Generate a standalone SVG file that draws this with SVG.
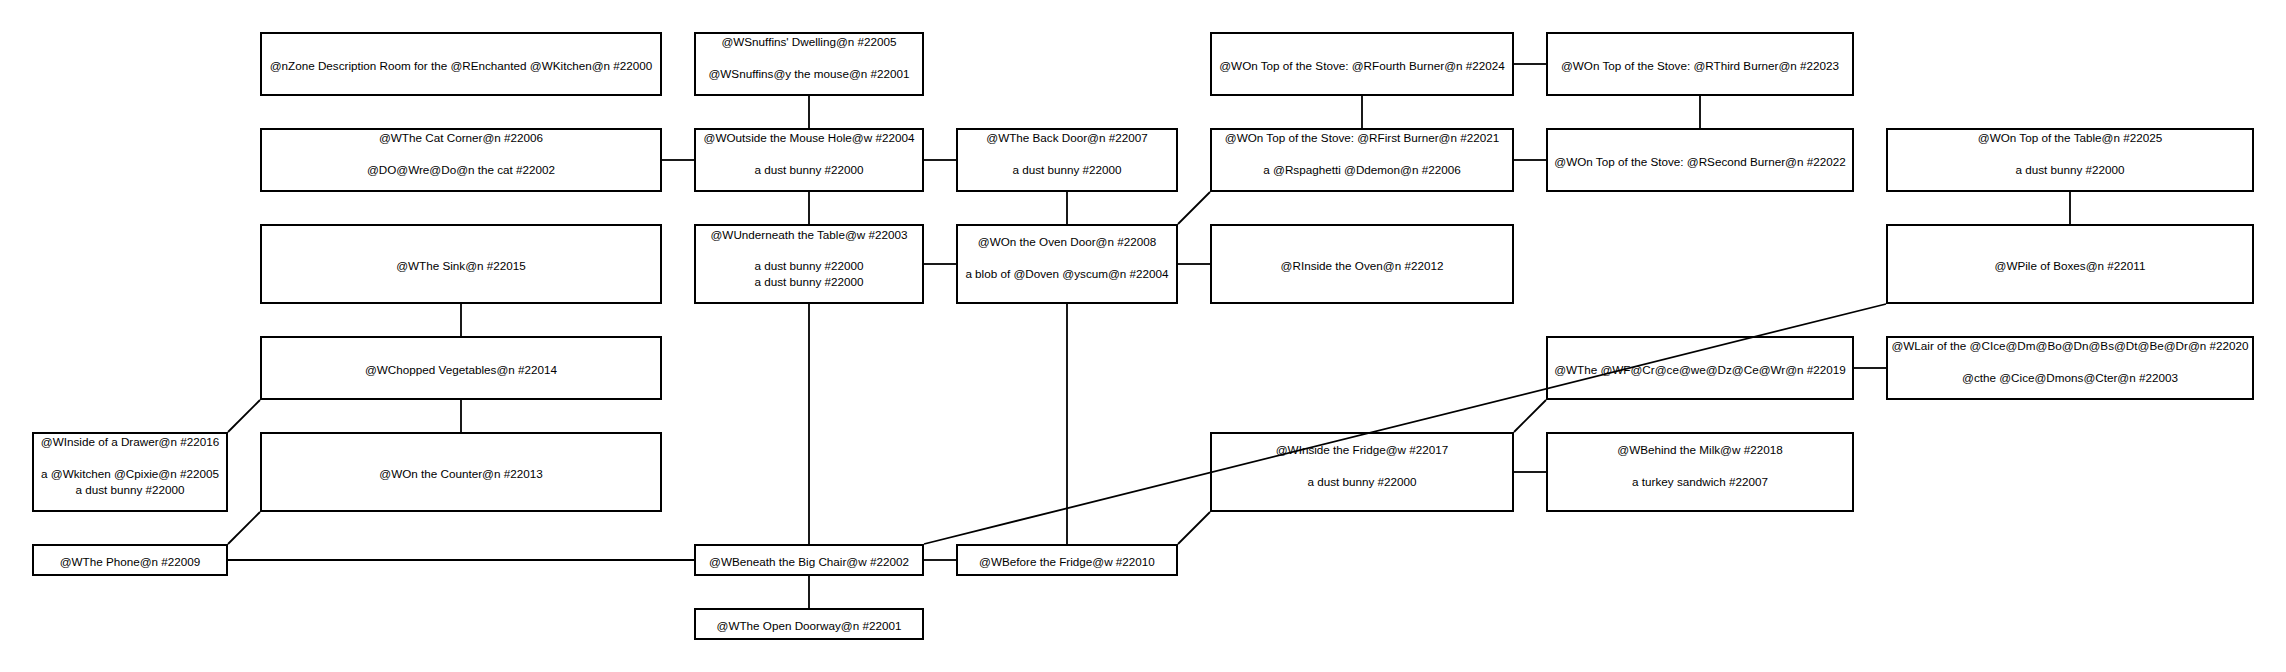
<svg xmlns="http://www.w3.org/2000/svg" width="2286" height="672" viewBox="0 0 2286 672">
<style>
.b{fill:#fff;stroke:#000;stroke-width:2}
.t{font-family:"Liberation Sans",Arial,sans-serif;font-size:11.7px;fill:#000;text-anchor:middle}
.e{stroke:#000;stroke-width:1.8;fill:none}
</style>
<rect width="2286" height="672" fill="#fff"/>
<g id="connectors">
<line class="e" x1="809" y1="96" x2="809" y2="128"/>
<line class="e" x1="662" y1="160" x2="694" y2="160"/>
<line class="e" x1="924" y1="160" x2="956" y2="160"/>
<line class="e" x1="809" y1="192" x2="809" y2="224"/>
<line class="e" x1="1067" y1="192" x2="1067" y2="224"/>
<line class="e" x1="1178" y1="224" x2="1210" y2="192"/>
<line class="e" x1="1178" y1="264" x2="1210" y2="264"/>
<line class="e" x1="924" y1="264" x2="956" y2="264"/>
<line class="e" x1="809" y1="304" x2="809" y2="544"/>
<line class="e" x1="1067" y1="304" x2="1067" y2="544"/>
<line class="e" x1="1514" y1="64" x2="1546" y2="64"/>
<line class="e" x1="1362" y1="96" x2="1362" y2="128"/>
<line class="e" x1="1700" y1="96" x2="1700" y2="128"/>
<line class="e" x1="1514" y1="160" x2="1546" y2="160"/>
<line class="e" x1="2070" y1="192" x2="2070" y2="224"/>
<line class="e" x1="461" y1="304" x2="461" y2="336"/>
<line class="e" x1="461" y1="400" x2="461" y2="432"/>
<line class="e" x1="260" y1="400" x2="228" y2="432"/>
<line class="e" x1="260" y1="512" x2="228" y2="544"/>
<line class="e" x1="228" y1="560" x2="694" y2="560"/>
<line class="e" x1="924" y1="560" x2="956" y2="560"/>
<line class="e" x1="809" y1="576" x2="809" y2="608"/>
<line class="e" x1="1178" y1="544" x2="1210" y2="512"/>
<line class="e" x1="1514" y1="432" x2="1546" y2="400"/>
<line class="e" x1="1514" y1="472" x2="1546" y2="472"/>
<line class="e" x1="1854" y1="368" x2="1886" y2="368"/>
</g>
<g id="n22000"><rect class="b" x="261" y="33" width="400" height="62"/><text class="t" x="461" y="69.5">@nZone Description Room for the @REnchanted @WKitchen@n #22000</text></g>
<g id="n22005"><rect class="b" x="695" y="33" width="228" height="62"/><text class="t" x="809" y="46">@WSnuffins' Dwelling@n #22005</text><text class="t" x="809" y="78">@WSnuffins@y the mouse@n #22001</text></g>
<g id="n22024"><rect class="b" x="1211" y="33" width="302" height="62"/><text class="t" x="1362" y="69.5">@WOn Top of the Stove: @RFourth Burner@n #22024</text></g>
<g id="n22023"><rect class="b" x="1547" y="33" width="306" height="62"/><text class="t" x="1700" y="69.5">@WOn Top of the Stove: @RThird Burner@n #22023</text></g>
<g id="n22006"><rect class="b" x="261" y="129" width="400" height="62"/><text class="t" x="461" y="142">@WThe Cat Corner@n #22006</text><text class="t" x="461" y="174">@DO@Wre@Do@n the cat #22002</text></g>
<g id="n22004"><rect class="b" x="695" y="129" width="228" height="62"/><text class="t" x="809" y="142">@WOutside the Mouse Hole@w #22004</text><text class="t" x="809" y="174">a dust bunny #22000</text></g>
<g id="n22007"><rect class="b" x="957" y="129" width="220" height="62"/><text class="t" x="1067" y="142">@WThe Back Door@n #22007</text><text class="t" x="1067" y="174">a dust bunny #22000</text></g>
<g id="n22021"><rect class="b" x="1211" y="129" width="302" height="62"/><text class="t" x="1362" y="142">@WOn Top of the Stove: @RFirst Burner@n #22021</text><text class="t" x="1362" y="174">a @Rspaghetti @Ddemon@n #22006</text></g>
<g id="n22022"><rect class="b" x="1547" y="129" width="306" height="62"/><text class="t" x="1700" y="165.5">@WOn Top of the Stove: @RSecond Burner@n #22022</text></g>
<g id="n22025"><rect class="b" x="1887" y="129" width="366" height="62"/><text class="t" x="2070" y="142">@WOn Top of the Table@n #22025</text><text class="t" x="2070" y="174">a dust bunny #22000</text></g>
<g id="n22015"><rect class="b" x="261" y="225" width="400" height="78"/><text class="t" x="461" y="269.5">@WThe Sink@n #22015</text></g>
<g id="n22003"><rect class="b" x="695" y="225" width="228" height="78"/><text class="t" x="809" y="238.5">@WUnderneath the Table@w #22003</text><text class="t" x="809" y="269.5">a dust bunny #22000</text><text class="t" x="809" y="285.5">a dust bunny #22000</text></g>
<g id="n22008"><rect class="b" x="957" y="225" width="220" height="78"/><text class="t" x="1067" y="246">@WOn the Oven Door@n #22008</text><text class="t" x="1067" y="278">a blob of @Doven @yscum@n #22004</text></g>
<g id="n22012"><rect class="b" x="1211" y="225" width="302" height="78"/><text class="t" x="1362" y="269.5">@RInside the Oven@n #22012</text></g>
<g id="n22011"><rect class="b" x="1887" y="225" width="366" height="78"/><text class="t" x="2070" y="269.5">@WPile of Boxes@n #22011</text></g>
<g id="n22014"><rect class="b" x="261" y="337" width="400" height="62"/><text class="t" x="461" y="373.5">@WChopped Vegetables@n #22014</text></g>
<g id="n22019"><rect class="b" x="1547" y="337" width="306" height="62"/><text class="t" x="1700" y="373.5">@WThe @WF@Cr@ce@we@Dz@Ce@Wr@n #22019</text></g>
<g id="n22020"><rect class="b" x="1887" y="337" width="366" height="62"/><text class="t" x="2070" y="350">@WLair of the @CIce@Dm@Bo@Dn@Bs@Dt@Be@Dr@n #22020</text><text class="t" x="2070" y="382">@cthe @Cice@Dmons@Cter@n #22003</text></g>
<g id="n22016"><rect class="b" x="33" y="433" width="194" height="78"/><text class="t" x="130" y="446">@WInside of a Drawer@n #22016</text><text class="t" x="130" y="477.5">a @Wkitchen @Cpixie@n #22005</text><text class="t" x="130" y="493.5">a dust bunny #22000</text></g>
<g id="n22013"><rect class="b" x="261" y="433" width="400" height="78"/><text class="t" x="461" y="477.5">@WOn the Counter@n #22013</text></g>
<g id="n22017"><rect class="b" x="1211" y="433" width="302" height="78"/><text class="t" x="1362" y="454">@WInside the Fridge@w #22017</text><text class="t" x="1362" y="486">a dust bunny #22000</text></g>
<g id="n22018"><rect class="b" x="1547" y="433" width="306" height="78"/><text class="t" x="1700" y="454">@WBehind the Milk@w #22018</text><text class="t" x="1700" y="486">a turkey sandwich #22007</text></g>
<g id="n22009"><rect class="b" x="33" y="545" width="194" height="30"/><text class="t" x="130" y="565.5">@WThe Phone@n #22009</text></g>
<g id="n22002"><rect class="b" x="695" y="545" width="228" height="30"/><text class="t" x="809" y="565.5">@WBeneath the Big Chair@w #22002</text></g>
<g id="n22010"><rect class="b" x="957" y="545" width="220" height="30"/><text class="t" x="1067" y="565.5">@WBefore the Fridge@w #22010</text></g>
<g id="n22001"><rect class="b" x="695" y="609" width="228" height="30"/><text class="t" x="809" y="629.5">@WThe Open Doorway@n #22001</text></g>
<g id="connector-long"><line class="e" x1="1886" y1="304" x2="924" y2="544"/></g>
</svg>
